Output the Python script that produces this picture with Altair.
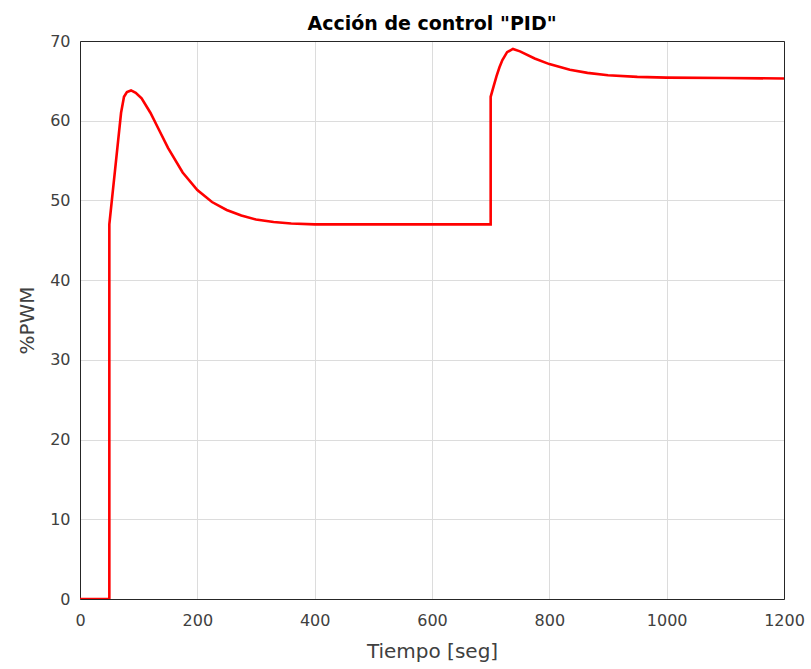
import altair as alt
import pandas as pd

tiempo = [0, 50, 50, 55, 60, 65, 70, 75, 80, 87, 95, 105, 120, 135, 150, 175, 200, 225,
          250, 275, 300, 330, 360, 400, 500, 600, 700, 700, 705, 710, 715, 720, 728, 738,
          750, 775, 800, 835, 865, 900, 950, 1000, 1100, 1200]
pwm = [0, 0, 47, 50.5, 54, 57.5, 61, 63, 63.6, 63.8, 63.5, 62.8, 61, 58.8, 56.6, 53.5,
       51.3, 49.8, 48.8, 48.1, 47.6, 47.3, 47.1, 47.0, 47.0, 47.0, 47.0, 63.0, 64.3,
       65.6, 66.7, 67.6, 68.6, 69.0, 68.7, 67.8, 67.1, 66.4, 66.0, 65.7, 65.5, 65.4,
       65.35, 65.3]
x_ticks = [0, 200, 400, 600, 800, 1000, 1200]
y_ticks = [0, 10, 20, 30, 40, 50, 60, 70]

df = pd.DataFrame({"t": tiempo, "u": pwm, "order": list(range(len(tiempo)))})

FONT = "DejaVu Sans"
GRAY = "#262626"
LBL = "#404040"

xs = alt.Scale(domain=[0, 1200], nice=False)
ys = alt.Scale(domain=[0, 70], nice=False)

main = alt.Chart(df).mark_line(color="#ff0000", strokeWidth=2.6, clip=True).encode(
    x=alt.X("t:Q", scale=xs,
            axis=alt.Axis(values=x_ticks, format="d", title="Tiempo [seg]", grid=True,
                          gridColor="#dcdcdc", domainColor=GRAY, tickSize=0,
                          labelColor=LBL, labelFontSize=16, labelPadding=13,
                          titleColor=LBL, titleFontSize=20, titleFontWeight="normal",
                          titlePadding=13, labelFont=FONT, titleFont=FONT,
                          labelFlush=False)),
    y=alt.Y("u:Q", scale=ys,
            axis=alt.Axis(values=y_ticks, title="%PWM", grid=True,
                          gridColor="#dcdcdc", domainColor=GRAY, tickSize=0,
                          labelColor=LBL, labelFontSize=16, labelPadding=10,
                          titleColor=LBL, titleFontSize=20, titleFontWeight="normal",
                          titlePadding=12, labelFont=FONT, titleFont=FONT)),
    order="order:Q",
)

frame = alt.Chart(df).mark_line(opacity=0).encode(
    x=alt.X("t:Q", scale=xs,
            axis=alt.Axis(orient="top", values=x_ticks, labels=False, ticks=False,
                          grid=False, title=None, domainColor=GRAY)),
    y=alt.Y("u:Q", scale=ys,
            axis=alt.Axis(orient="right", values=y_ticks, labels=False, ticks=False,
                          grid=False, title=None, domainColor=GRAY)),
)

chart = alt.layer(main, frame).resolve_axis(x="independent", y="independent").properties(
    width=704,
    height=558,
    background="white",
    title=alt.TitleParams('Acción de control "PID"', font=FONT, fontSize=19,
                          fontWeight="bold", color="#000000", offset=-1),
    autosize=alt.AutoSizeParams(type="none"),
    padding={"left": 80, "top": 41, "right": 27, "bottom": 70},
).configure_view(stroke=GRAY, strokeWidth=1)

chart.save("out.html", embed_options={"renderer": "svg", "actions": False})
